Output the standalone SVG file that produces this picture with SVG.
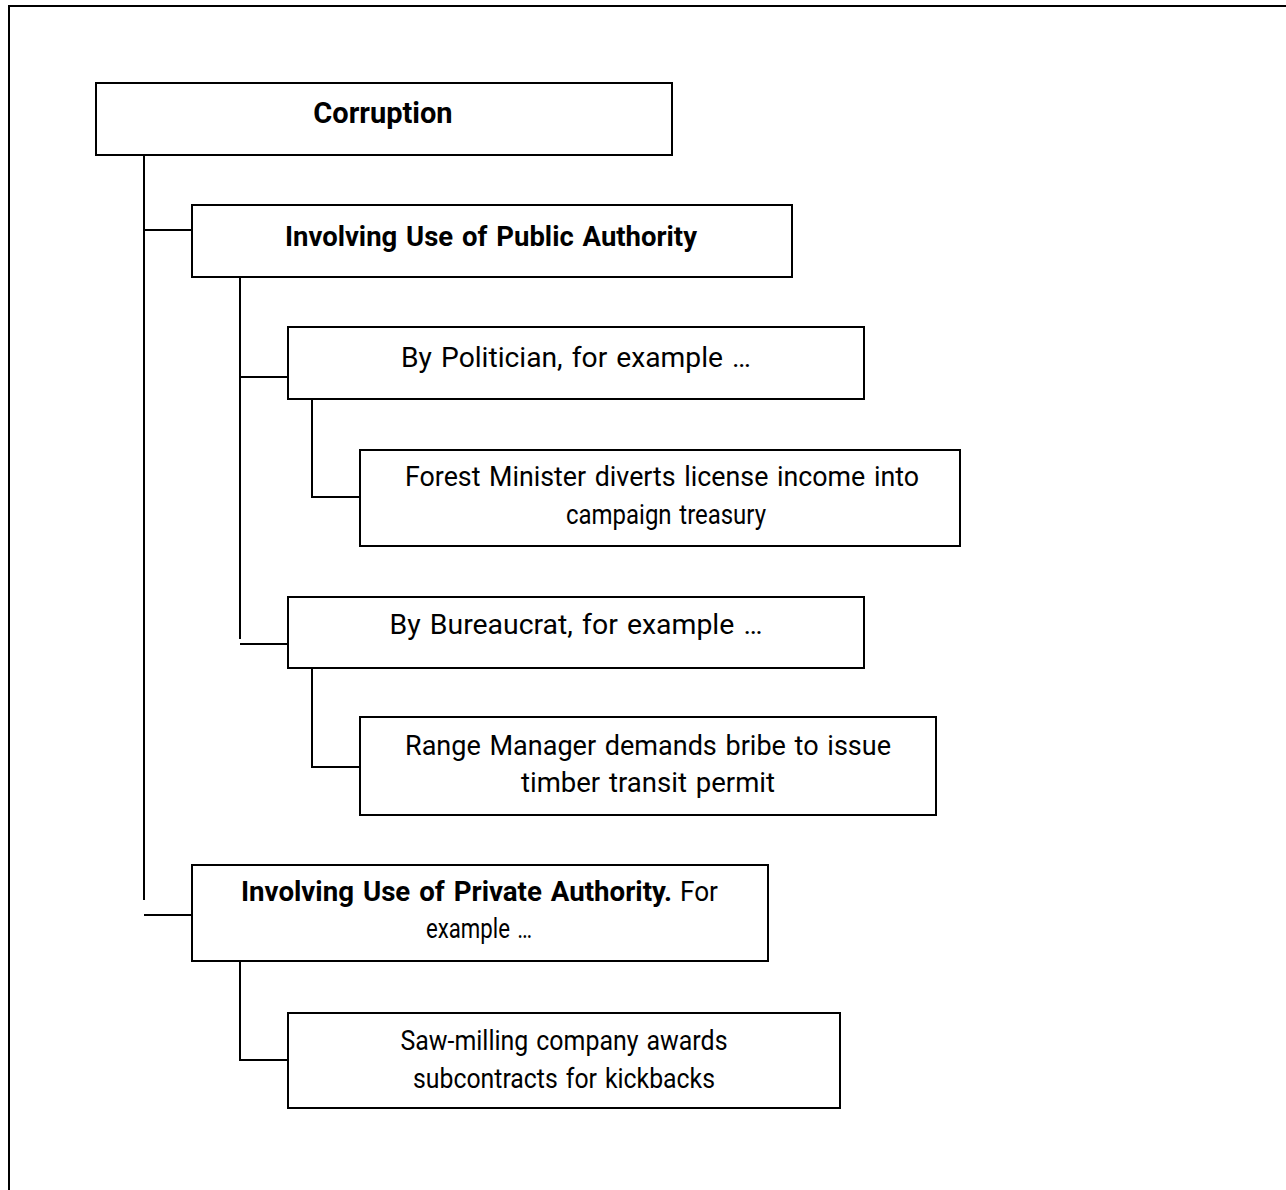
<svg xmlns="http://www.w3.org/2000/svg" width="1286" height="1190" viewBox="0 0 1286 1190">
<style>
.box{fill:#fff;stroke:#000;stroke-width:2}
.ln{fill:none;stroke:#000;stroke-width:2}
text{font-family:Roboto,"Liberation Sans",sans-serif;font-size:27px;word-spacing:2px;fill:#000;text-anchor:middle}
.b{font-weight:bold}
.s{text-anchor:start}
.t{font-size:29px;word-spacing:0}
</style>
<rect x="0" y="0" width="1286" height="1190" fill="#fff"/>
<path class="ln" d="M9,1192 V6 H1288"/>
<g id="connectors">
<path class="ln" d="M144,155 V900 M144,230 H192 M144,915 H192"/>
<path class="ln" d="M240,277 V639 M240,377 H288 M240,644 H288"/>
<path class="ln" d="M312,399 V497 H360"/>
<path class="ln" d="M312,668 V767 H360"/>
<path class="ln" d="M240,961 V1060 H288"/>
</g>
<g id="corruption"><rect class="box" x="96" y="83" width="576" height="72"/><text class="b t" x="383" y="123">Corruption</text></g>
<g id="public"><rect class="box" x="192" y="205" width="600" height="72"/><text class="b" x="491" y="246" textLength="412" lengthAdjust="spacingAndGlyphs">Involving Use of Public Authority</text></g>
<g id="politician"><rect class="box" x="288" y="327" width="576" height="72"/><text x="576" y="367" textLength="350" lengthAdjust="spacingAndGlyphs">By Politician, for example …</text></g>
<g id="forest"><rect class="box" x="360" y="450" width="600" height="96"/><text x="662" y="486" textLength="514" lengthAdjust="spacingAndGlyphs">Forest Minister diverts license income into</text><text x="666" y="524" textLength="200" lengthAdjust="spacingAndGlyphs">campaign treasury</text></g>
<g id="bureaucrat"><rect class="box" x="288" y="597" width="576" height="71"/><text x="576" y="634" textLength="373" lengthAdjust="spacingAndGlyphs">By Bureaucrat, for example …</text></g>
<g id="range"><rect class="box" x="360" y="717" width="576" height="98"/><text x="648" y="755" textLength="486" lengthAdjust="spacingAndGlyphs">Range Manager demands bribe to issue</text><text x="648" y="792" textLength="254" lengthAdjust="spacingAndGlyphs">timber transit permit</text></g>
<g id="private"><rect class="box" x="192" y="865" width="576" height="96"/><text class="b s" x="241" y="901" textLength="431" lengthAdjust="spacingAndGlyphs">Involving Use of Private Authority.</text><text class="s" x="680" y="901" textLength="38" lengthAdjust="spacingAndGlyphs">For</text><text x="479" y="938" textLength="106" lengthAdjust="spacingAndGlyphs">example …</text></g>
<g id="saw"><rect class="box" x="288" y="1013" width="552" height="95"/><text x="564" y="1050" textLength="327" lengthAdjust="spacingAndGlyphs">Saw-milling company awards</text><text x="564" y="1088" textLength="302" lengthAdjust="spacingAndGlyphs">subcontracts for kickbacks</text></g>
</svg>
